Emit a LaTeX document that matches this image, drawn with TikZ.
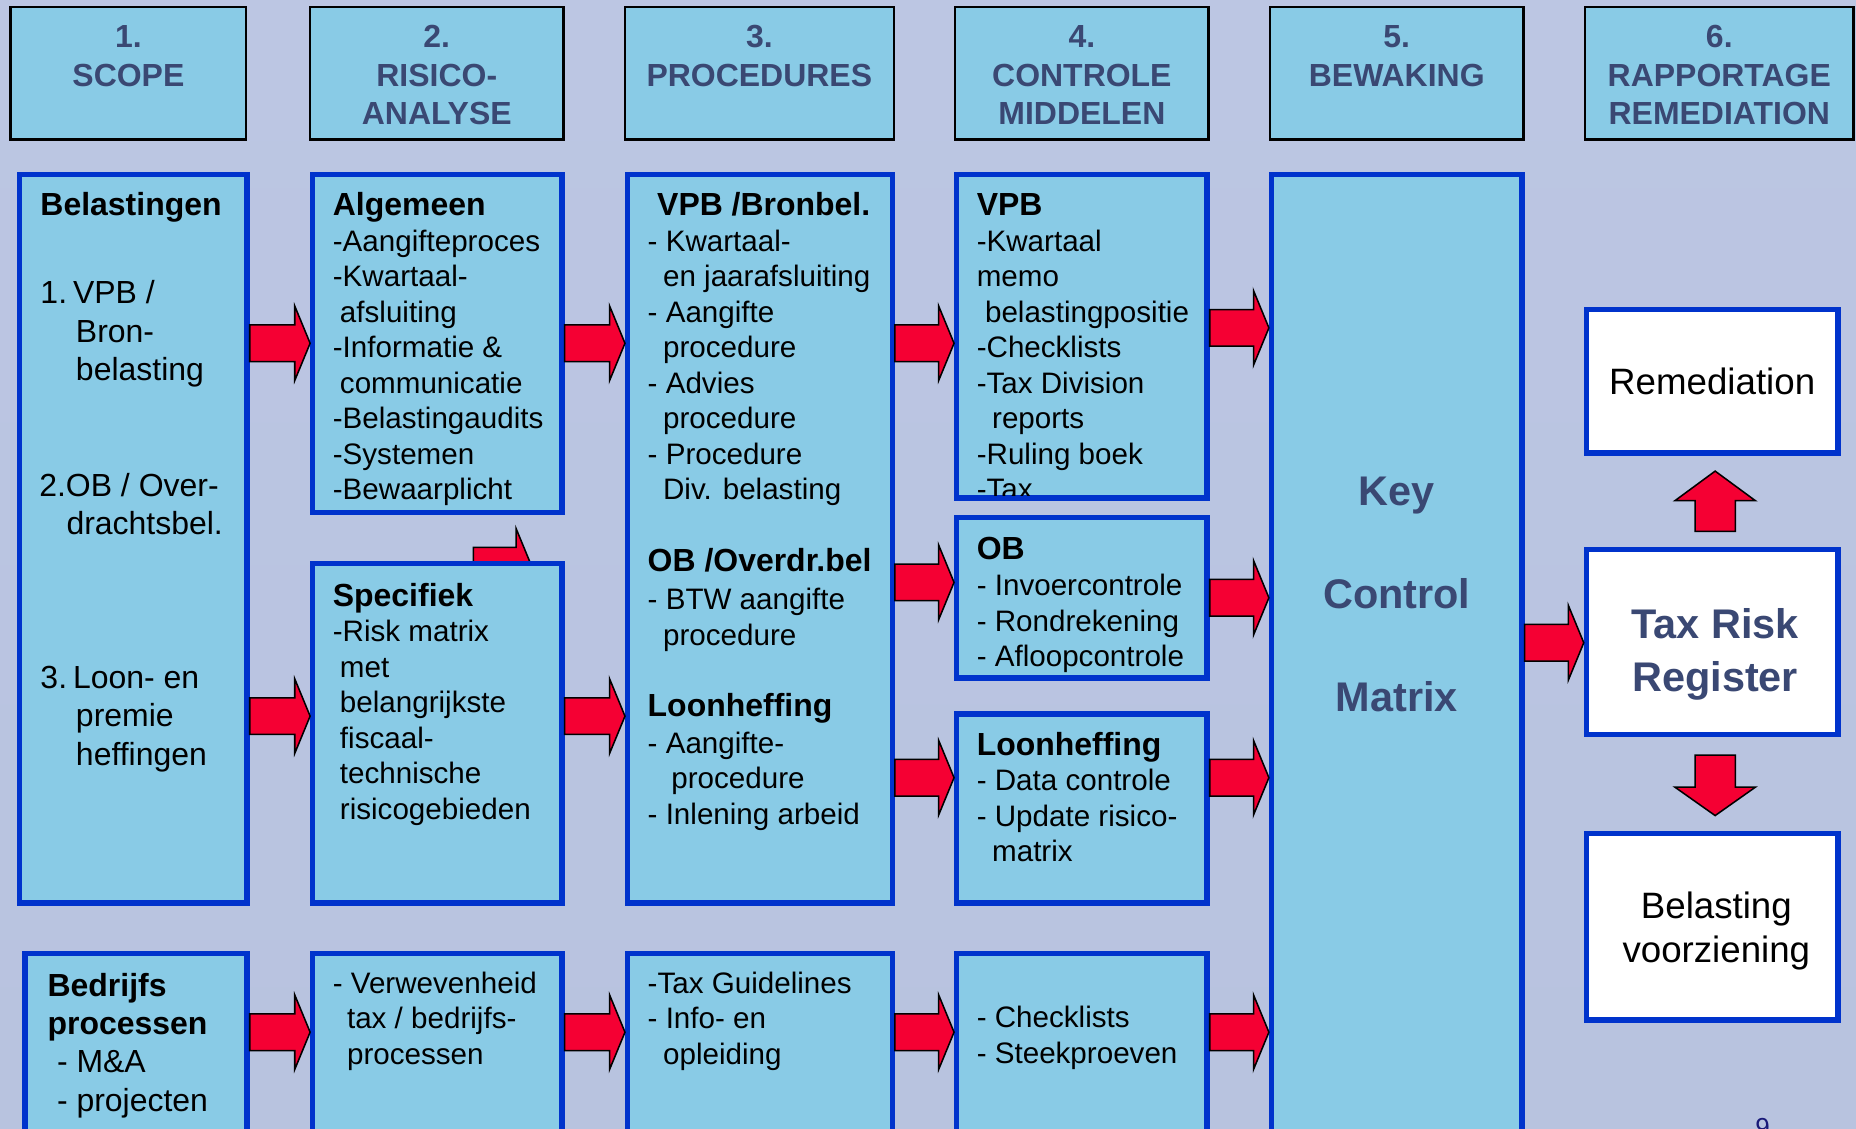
\documentclass[tikz,border=0pt]{standalone}
\usepackage{fontspec}
\setmainfont{Liberation Sans}
\usetikzlibrary{calc}
\definecolor{boxfill}{RGB}{137,203,230}
\definecolor{boxblue}{RGB}{0,51,204}
\definecolor{navy}{RGB}{58,72,115}
\definecolor{pnum}{RGB}{25,25,120}
\definecolor{arrred}{RGB}{245,0,51}
\definecolor{bgtop}{RGB}{188,198,227}
\definecolor{bgmid}{RGB}{136,151,199}
\definecolor{bgbot}{RGB}{184,195,223}
\newcommand\mkbox[7]{\node[#1, minimum width={#5pt-#3pt-#7pt}, minimum height={#6pt-#4pt-#7pt}] (#2) at ({(#3+#5)/2},{(#4+#6)/2}) {};}
\newcommand\rarr[3]{\draw[blockarr] let \p1=(#1.east), \p2=(#2.west) in
 (\x1,{-#3pt+15.5pt}) -- ({\x2-13pt},{-#3pt+15.5pt}) -- ({\x2-13pt},{-#3pt+31.5pt}) -- (\x2,{-#3pt}) -- ({\x2-13pt},{-#3pt-31.5pt}) -- ({\x2-13pt},{-#3pt-15.5pt}) -- (\x1,{-#3pt-15.5pt}) -- cycle;}
\tikzset{
 cbox/.style={draw=boxblue, fill=boxfill, line width=4.5pt, inner sep=0pt, rectangle},
 wbox/.style={draw=boxblue, fill=white, line width=4.5pt, inner sep=0pt, rectangle},
 hbox/.style={draw=black, fill=boxfill, line width=2pt, inner sep=0pt, rectangle},
 blockarr/.style={draw=black, fill=arrred, line width=1.3pt, line join=miter},
 htxt/.style={anchor=north, inner sep=0pt, align=center, text=navy, font=\fontsize{27}{32.5}\selectfont\bfseries},
 ttl/.style={anchor=base west, inner sep=0pt, font=\fontsize{27}{32}\selectfont\bfseries},
 bdy/.style={anchor=north west, inner sep=0pt, align=left, font=\fontsize{25}{30}\selectfont},
 bdyl/.style={anchor=north west, inner sep=0pt, align=left, font=\fontsize{27}{32.5}\selectfont},
}
\newcommand\ind[1]{\hspace*{#1pt}}
\begin{document}
\begin{tikzpicture}[x=1pt,y=-1pt]
\useasboundingbox (0,0) rectangle (1568,953);
\clip (0,0) rectangle (1568,953);
\shade[top color=bgtop, middle color=bgmid, bottom color=bgbot] (0,0) rectangle (1568,953);
% headers
\mkbox{hbox}{h1}{8}{5}{209}{119}{2}
\mkbox{hbox}{h2}{261}{5}{477}{119}{2}
\mkbox{hbox}{h3}{527}{5}{756}{119}{2}
\mkbox{hbox}{h4}{806}{5}{1022}{119}{2}
\mkbox{hbox}{h5}{1072}{5}{1288}{119}{2}
\mkbox{hbox}{h6}{1338}{5}{1567}{119}{2}
\node[htxt] (h1t) at (108.5,17.5) {\strut 1.\\SCOPE};
\node[htxt] (h2t) at (369,17.5) {\strut 2.\\RISICO-\\ANALYSE};
\node[htxt] (h3t) at (641.5,17.5) {\strut 3.\\PROCEDURES};
\node[htxt] (h4t) at (914,17.5) {\strut 4.\\CONTROLE\\MIDDELEN};
\node[htxt] (h5t) at (1180,17.5) {\strut 5.\\BEWAKING};
\node[htxt] (h6t) at (1452.5,17.5) {\strut 6.\\RAPPORTAGE\\REMEDIATION};
% partial arrow hidden behind Specifiek box
\draw[blockarr] (400,462.5) -- (436,462.5) -- (436,446.5) -- (449,478) -- (436,509.5) -- (436,493.5) -- (400,493.5) -- cycle;
% content boxes
\mkbox{cbox}{c1a}{14}{145}{211}{765}{4.5}
\mkbox{cbox}{c1b}{19}{803}{211}{975}{4.5}
\mkbox{cbox}{c2a}{262}{145}{477}{435}{4.5}
\mkbox{cbox}{c2b}{262}{474}{477}{765}{4.5}
\mkbox{cbox}{c2c}{262}{803}{477}{975}{4.5}
\mkbox{cbox}{c3a}{528}{145}{756}{765}{4.5}
\mkbox{cbox}{c3b}{528}{803}{756}{975}{4.5}
\mkbox{cbox}{c4a}{806}{145}{1022}{423}{4.5}
\mkbox{cbox}{c4b}{806}{435}{1022}{575}{4.5}
\mkbox{cbox}{c4c}{806}{601}{1022}{765}{4.5}
\mkbox{cbox}{c4d}{806}{803}{1022}{975}{4.5}
\mkbox{cbox}{c5}{1072}{145}{1288}{975}{4.5}
\mkbox{wbox}{rem}{1338}{259}{1555}{385}{4.5}
\mkbox{wbox}{trr}{1338}{462}{1555}{623}{4.5}
\mkbox{wbox}{bv}{1338}{702}{1555}{864}{4.5}
% arrows
\rarr{c1a}{c2a}{290}
\rarr{c1a}{c2b}{605}
\rarr{c1b}{c2c}{872}
\rarr{c2a}{c3a}{290}
\rarr{c2b}{c3a}{605}
\rarr{c2c}{c3b}{872}
\rarr{c3a}{c4a}{290}
\rarr{c3a}{c4b}{492}
\rarr{c3a}{c4c}{657}
\rarr{c3b}{c4d}{872}
\rarr{c4a}{c5}{277}
\rarr{c4b}{c5}{505}
\rarr{c4c}{c5}{657}
\rarr{c4d}{c5}{872}
\rarr{c5}{trr}{543}
\draw[blockarr] ($(trr.north)+(-14.5,-13)$) -- ++(0,-26) -- ++(-17,0) -- ++(34,-25) -- ++(34,25) -- ++(-17,0) -- ++(0,26) -- cycle;
\draw[blockarr] ($(trr.south)+(-14.5,15)$) -- ++(0,27) -- ++(-17,0) -- ++(34,24) -- ++(34,-24) -- ++(-17,0) -- ++(0,-27) -- cycle;
% column 1
\node[ttl] (t1a) at (34,182) {Belastingen};
\node[bdyl] (b1a) at (34,233.5) {\strut 1.\ind{5}VPB /\\\ind{30}Bron-\\\ind{30}belasting};
\node[bdyl] (b1b) at (33,396.5) {\strut 2.OB / Over-\\\ind{23}drachtsbel.};
\node[bdyl] (b1c) at (34,558.5) {\strut 3.\ind{5}Loon- en\\\ind{30}premie\\\ind{30}heffingen};
\node[bdyl] (b1d) at (40,818.5) {\strut\textbf{Bedrijfs}\\\textbf{processen}\\\ind{8}- M\&A\\\ind{8}- projecten};
% column 2
\node[ttl] (t2a) at (281,182) {Algemeen};
\node[bdy] (b2a) at (281,191) {\strut -Aangifteproces\\-Kwartaal-\\\ind{6}afsluiting\\-Informatie \&\\\ind{6}communicatie\\-Belastingaudits\\-Systemen\\-Bewaarplicht};
\node[ttl] (t2b) at (281,512) {Specifiek};
\node[bdy] (b2b) at (281,521) {\strut -Risk matrix\\\ind{6}met\\\ind{6}belangrijkste\\\ind{6}fiscaal-\\\ind{6}technische\\\ind{6}risicogebieden};
\node[bdy] (b2c) at (281,818) {\strut - Verwevenheid\\\ind{12}tax / bedrijfs-\\\ind{12}processen};
% column 3
\node[ttl] (t3a) at (555,182) {VPB /Bronbel.};
\node[bdy] (b3a) at (547,191) {\strut - Kwartaal-\\\ind{13}en jaarafsluiting\\- Aangifte\\\ind{13}procedure\\- Advies\\\ind{13}procedure\\- Procedure\\\ind{13}Div. belasting};
\node[ttl] (t3b) at (547,483) {OB /Overdr.bel};
\node[bdy] (b3b) at (547,494) {\strut - BTW aangifte\\\ind{13}procedure};
\node[ttl] (t3c) at (547,605) {Loonheffing};
\node[bdy] (b3c) at (547,615) {\strut - Aangifte-\\\ind{20}procedure\\- Inlening arbeid};
\node[bdy] (b3d) at (547,818) {\strut -Tax Guidelines\\- Info- en\\\ind{13}opleiding};
% column 4
\node[ttl] (t4a) at (825,182) {VPB};
\begin{scope}
\clip ([shift={(4.5,4.5)}]c4a.north west) rectangle ([shift={(-4.5,-4.5)}]c4a.south east);
\node[bdy] (b4a) at (825,191) {\strut -Kwartaal\\memo\\\ind{7}belastingpositie\\-Checklists\\-Tax Division\\\ind{13}reports\\-Ruling boek\\-Tax};
\end{scope}
\node[ttl] (t4b) at (825,473) {OB};
\node[bdy] (b4b) at (825,482) {\strut - Invoercontrole\\- Rondrekening\\- Afloopcontrole};
\node[ttl] (t4c) at (825,638) {Loonheffing};
\node[bdy] (b4c) at (825,647) {\strut - Data controle\\- Update risico-\\\ind{13}matrix};
\node[bdy] (b4d) at (825,847) {\strut - Checklists\\- Steekproeven};
% column 5
\node[anchor=north, inner sep=0pt, align=center, text=navy, font=\fontsize{35}{87}\selectfont\bfseries] (kcm) at (1180,366) {\strut Key\\Control\\Matrix};
% column 6
\node[inner sep=0pt, font=\fontsize{31}{37}\selectfont] (remt) at (rem.center) {Remediation};
\node[anchor=north, inner sep=0pt, align=center, text=navy, font=\fontsize{35}{45}\selectfont\bfseries] (trrt) at (1449,507.5) {\strut Tax Risk\\Register};
\node[anchor=north, inner sep=0pt, align=center, font=\fontsize{31}{37}\selectfont] (bvt) at (1450,750) {\strut Belasting\\voorziening};
\node[anchor=base, inner sep=0pt, text=pnum, font=\fontsize{22}{26}\selectfont] (pg) at (1489,960) {9};
\end{tikzpicture}
\end{document}
